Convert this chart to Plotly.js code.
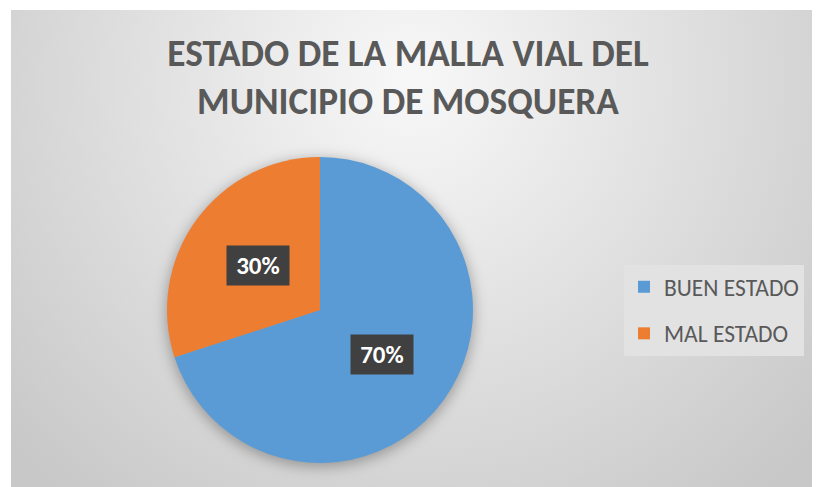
<!DOCTYPE html>
<html>
<head>
<meta charset="utf-8">
<script src="https://cdn.plot.ly/plotly-3.0.1.min.js"></script>
<style>html,body{margin:0;padding:0;background:#fff;}#chart{width:816px;height:487px;}</style>
</head>
<body>
<div id="chart"></div>
<script>
// ---- data ----
const categories = ["BUEN ESTADO", "MAL ESTADO"];
const values = [70, 30];
const sliceColors = ["#5B9BD5", "#ED7D31"];
const chartTitle = "ESTADO DE LA MALLA VIAL DEL<br>MUNICIPIO DE MOSQUERA";

// ---- layout constants ----
const W = 816, H = 487;
const CX = 320, CY = 310, R = 153;       // pie centre / radius in pixels
const BG = {x0: 11, y0: 10, x1: 812, y1: 487};
const FONT = 'Carlito, Calibri, "Liberation Sans Narrow", sans-serif';

const bw = BG.x1 - BG.x0, bh = BG.y1 - BG.y0;
const svg =
  `<svg xmlns="http://www.w3.org/2000/svg" width="${bw}" height="${bh}" viewBox="0 0 ${bw} ${bh}">` +
  `<defs><radialGradient id="g" gradientUnits="userSpaceOnUse" cx="${bw*0.5}" cy="70" r="540">` +
  `<stop offset="0" stop-color="#f8f8f8"/><stop offset="1" stop-color="#c8c8c8"/></radialGradient>` +
  `<filter id="b" x="-30%" y="-30%" width="160%" height="160%"><feGaussianBlur stdDeviation="7"/></filter></defs>` +
  `<rect width="${bw}" height="${bh}" fill="url(#g)"/>` +
  `<circle cx="${CX-BG.x0}" cy="${CY-BG.y0+3}" r="${R+1}" fill="#000" fill-opacity="0.3" filter="url(#b)"/>` +
  `</svg>`;

const total = values.reduce((a,b)=>a+b,0);
const annotations = [];
let cum = 0;
values.forEach((v,i)=>{
  const mid = (cum + v/2)/total;
  cum += v;
  const th = mid*2*Math.PI;
  const px = CX + 0.5*R*Math.sin(th);
  const py = CY - 0.5*R*Math.cos(th);
  annotations.push({
    xref:'paper', yref:'paper', x: px/W, y: 1 - py/H,
    xanchor:'center', yanchor:'middle', showarrow:false,
    text: Math.round(v/total*100) + '%',
    font:{family:FONT, size:25, color:'#ffffff', weight:'bold'},
    bgcolor:'#404040', width:62, height:39, borderpad:0
  });
});

const traces = [{
  type:'pie',
  labels: categories,
  values: values,
  marker:{colors: sliceColors, line:{width:0}},
  sort:false, direction:'clockwise', rotation:0,
  textinfo:'none', hoverinfo:'label+percent',
  showlegend:false,
  domain:{x:[(CX-R)/W, (CX+R)/W], y:[1-(CY+R)/H, 1-(CY-R)/H]}
}];
categories.forEach((c,i)=>{
  traces.push({
    type:'scatter', mode:'markers', x:[null], y:[null],
    name:c, legendgroup:'g'+i, showlegend:true,
    marker:{symbol:'square', size:12, color:sliceColors[i]},
    hoverinfo:'skip'
  });
});

const layout = {
  width:W, height:H,
  margin:{l:0,r:0,t:0,b:0},
  paper_bgcolor:'#ffffff', plot_bgcolor:'rgba(0,0,0,0)',
  xaxis:{visible:false}, yaxis:{visible:false},
  title:{
    text: chartTitle,
    font:{family:FONT, size:37.3, color:'#595959', weight:'bold'},
    x:0.5, xanchor:'center', xref:'paper',
    y:1-66/H, yanchor:'middle', yref:'container'
  },
  images:[{
    source:'data:image/svg+xml;utf8,' + encodeURIComponent(svg),
    xref:'paper', yref:'paper', x:BG.x0/W, y:1-BG.y0/H,
    sizex:bw/W, sizey:bh/H, sizing:'stretch',
    xanchor:'left', yanchor:'top', layer:'below'
  }],
  legend:{
    x:624/W, xanchor:'left', y:1-265/H, yanchor:'top',
    bgcolor:'#e2e2e2', borderwidth:0,
    font:{family:FONT, size:23.5, color:'#595959'},
    traceorder:'grouped', tracegroupgap:13
  },
  annotations: annotations,
  showlegend:true
};

Plotly.newPlot('chart', traces, layout, {displayModeBar:false, staticPlot:true});
</script>
</body>
</html>
